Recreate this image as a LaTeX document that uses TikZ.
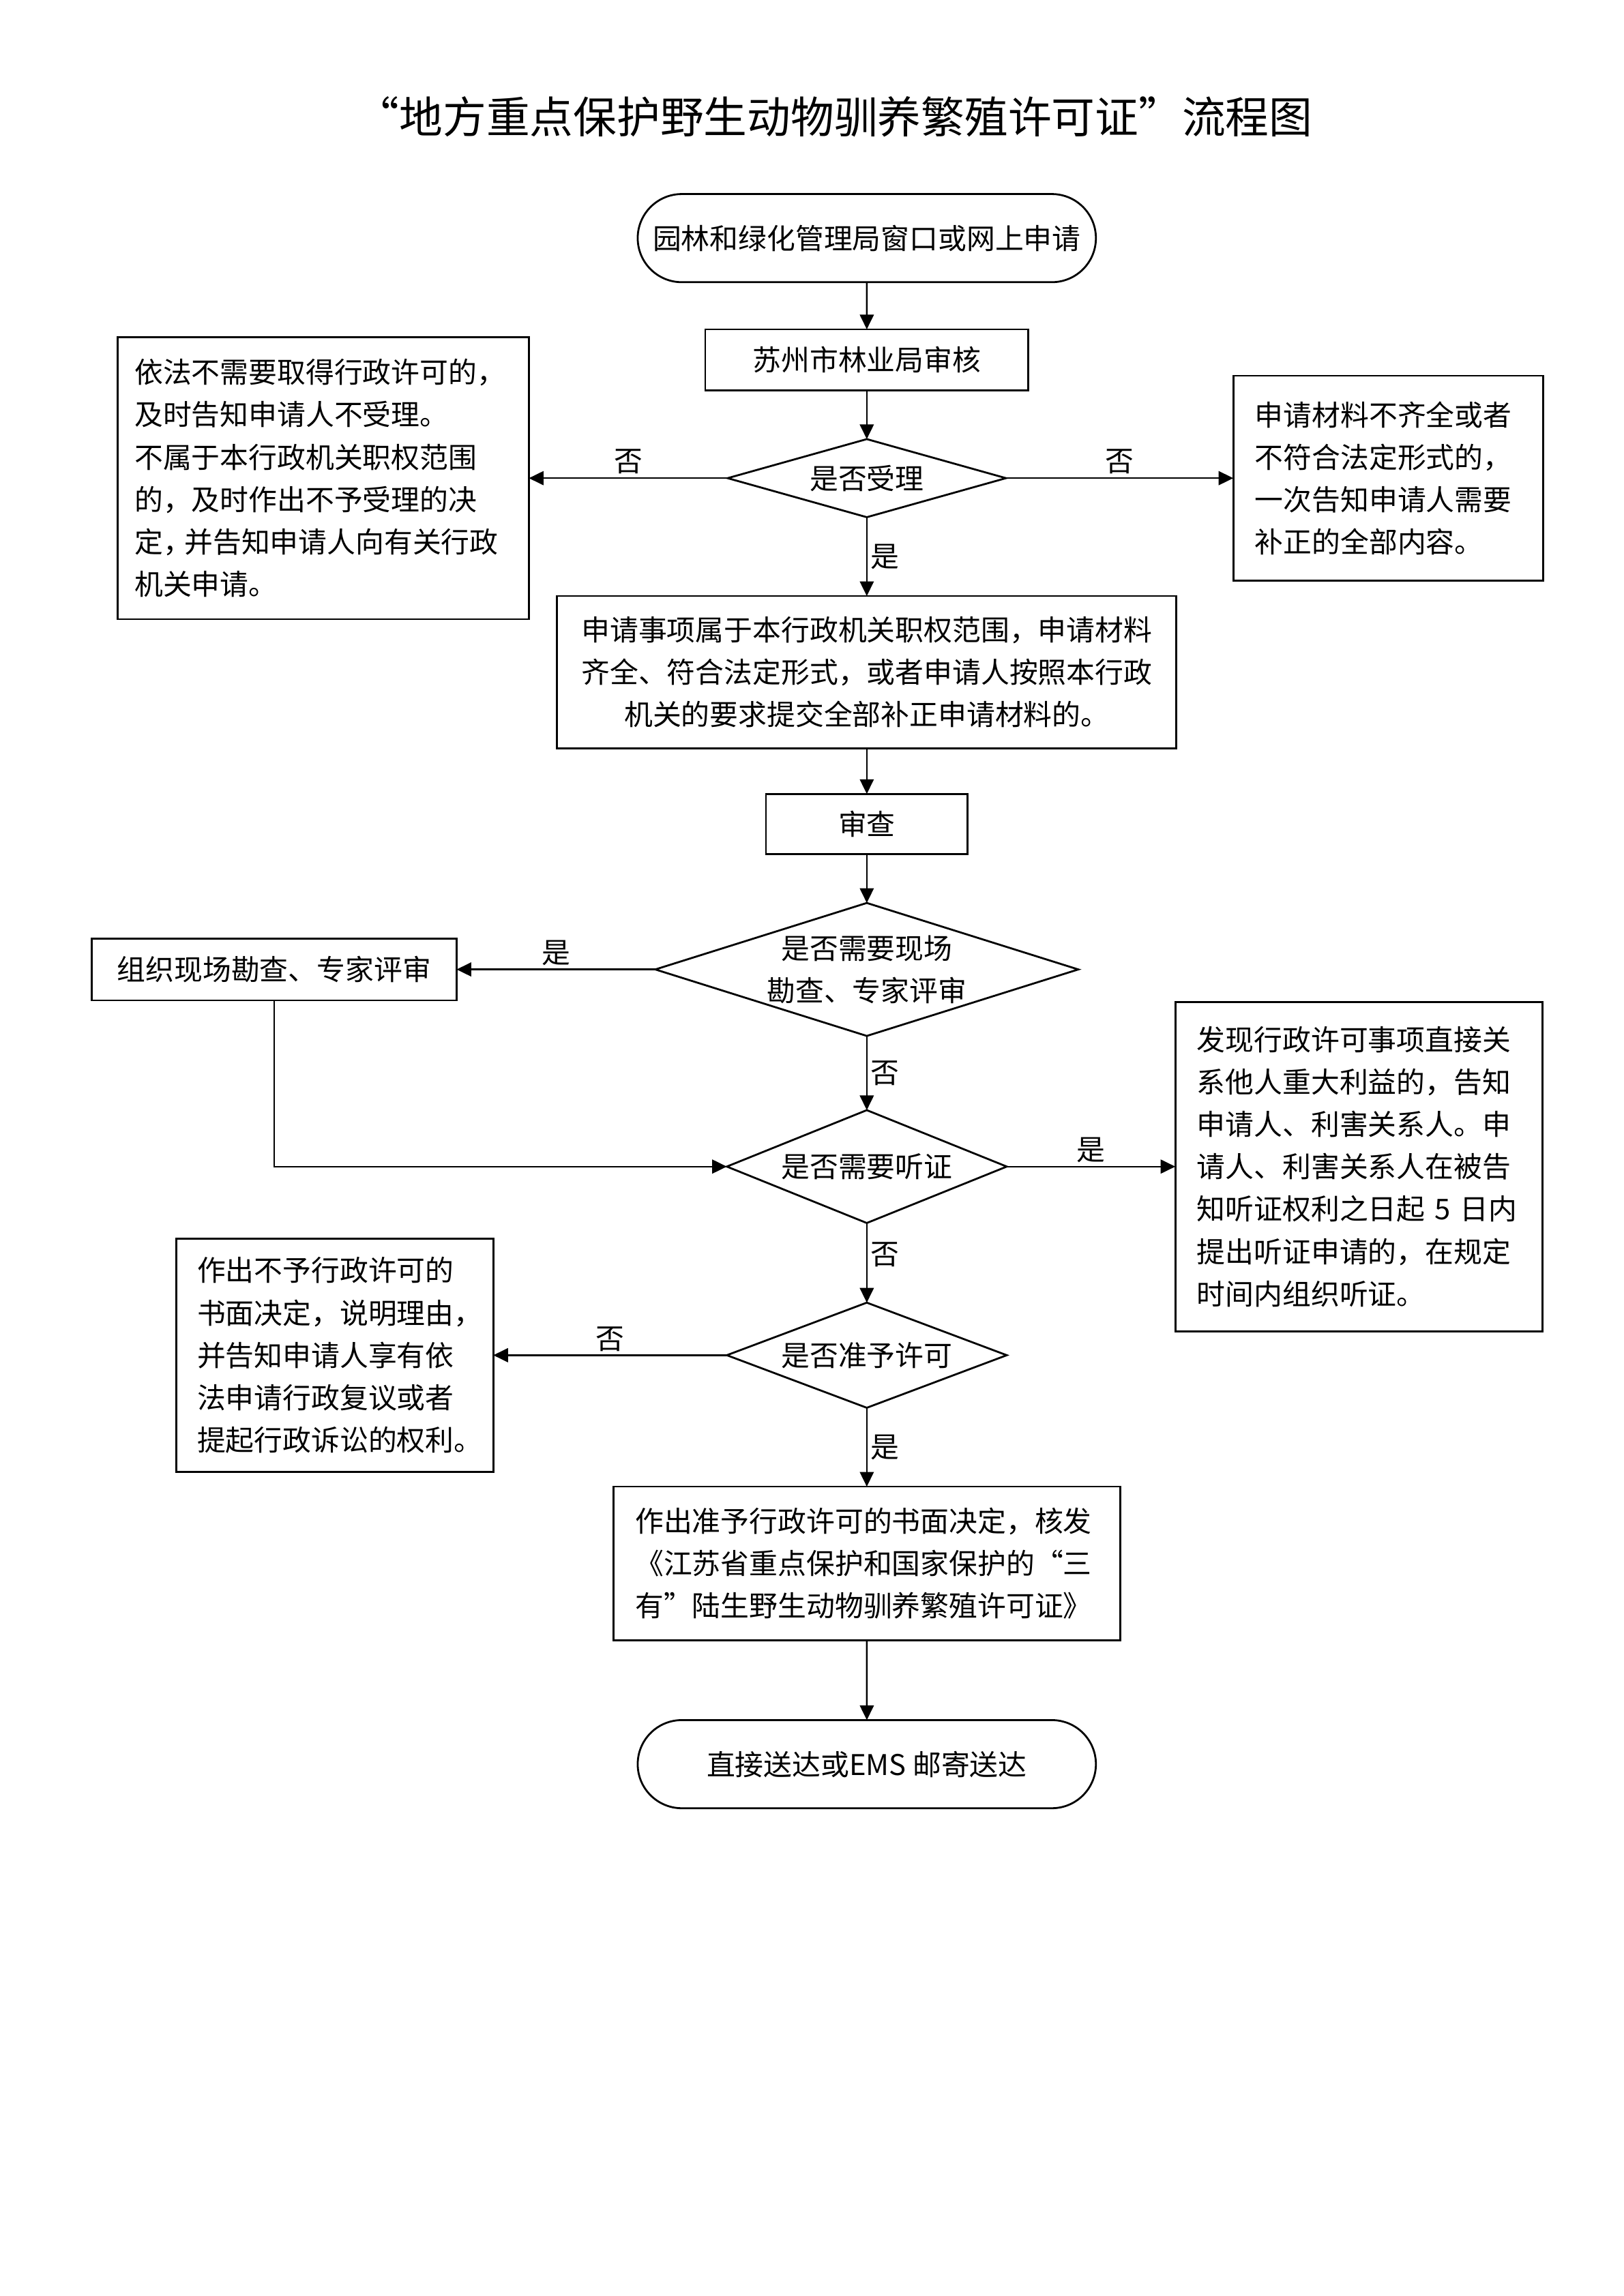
\documentclass[tikz,border=0pt]{standalone}
\usepackage{fontspec}
\setmainfont{Noto Sans CJK SC}
\usepackage{tikz}
\usetikzlibrary{positioning,arrows.meta,shapes.geometric,shapes.misc}
\newcommand{\zhengwen}{\fontsize{10.5pt}{15.6pt}\selectfont}
\tikzset{
  kuang/.style={rectangle, draw, line width=0.7pt, outer sep=0pt, font=\zhengwen, inner ysep=0pt},
  lingxing/.style={diamond, draw, line width=0.7pt, outer sep=0pt, inner sep=0pt},
  tuoyuan/.style={rounded rectangle, draw, line width=0.7pt, outer sep=0pt, font=\zhengwen,
    minimum width=61.6mm, minimum height=11.4mm},
  wenzi/.style={font=\zhengwen, align=center},
  jiantou/.style={-{Triangle[length=1.9mm,width=1.8mm]}, line width=0.6pt},
  biaoqian/.style={font=\zhengwen, inner sep=1.2pt},
}

\begin{document}
\begin{tikzpicture}[x=1mm,y=1mm]
  \useasboundingbox (0,0) rectangle (210,-297);
  \node[font=\fontsize{16pt}{20pt}\selectfont, anchor=west] (biaoti) at (44.8,-15.1)
    {“地方重点保护野生动物驯养繁殖许可证”流程图};
  % main column
  \node[tuoyuan] (shenqing) at (112.1,-30.8) {园林和绿化管理局窗口或网上申请};
  \node[kuang, below=6.1mm of shenqing, minimum width=41.8mm, minimum height=7.9mm] (shenhe) {苏州市林业局审核};
  \node[lingxing, below=6.3mm of shenhe, minimum width=36mm, minimum height=10.1mm,
    label={[wenzi]center:是否受理}] (shouli) {};
  \node[kuang, below=10.2mm of shouli, minimum width=80.1mm, minimum height=19.7mm, align=center] (fanwei)
    {申请事项属于本行政机关职权范围，申请材料\\齐全、符合法定形式，或者申请人按照本行政\\机关的要求提交全部补正申请材料的。};
  \node[kuang, below=5.9mm of fanwei, minimum width=26.1mm, minimum height=7.8mm] (shencha) {审查};
  \node[lingxing, below=6.3mm of shencha, minimum width=54.7mm, minimum height=17.2mm,
    label={[wenzi]center:是否需要现场\\勘查、专家评审}] (xianchang) {};
  \node[lingxing, below=9.6mm of xianchang, minimum width=36.2mm, minimum height=14.6mm,
    label={[wenzi]center:是否需要听证}] (tingzheng) {};
  \node[lingxing, below=10.3mm of tingzheng, minimum width=36.2mm, minimum height=13.6mm,
    label={[wenzi]center:是否准予许可}] (xuke) {};
  \node[kuang, below=10.2mm of xuke, minimum width=65.5mm, minimum height=19.9mm,
    text width=59.9mm, inner xsep=2.8mm, align=left] (zhunyu)
    {作出准予行政许可的书面决定，核发\\《江苏省重点保护和国家保护的“三\\有”陆生野生动物驯养繁殖许可证》};
  \node[tuoyuan, below=10.3mm of zhunyu] (songda) {直接送达或EMS 邮寄送达};
  % side boxes
  \node[kuang, left=25.7mm of shouli, minimum width=53.2mm, minimum height=36.5mm,
    text width=48.8mm, inner xsep=2.2mm, align=left] (bushouli)
    {依法不需要取得行政许可的，\\及时告知申请人不受理。\\不属于本行政机关职权范围\\的，及时作出不予受理的决\\定，\kern-0.25em 并告知申请人向有关行政\\机关申请。};
  \node[kuang, right=29.4mm of shouli, minimum width=40.1mm, minimum height=26.5mm,
    text width=34.5mm, inner xsep=2.8mm, align=left] (buzheng)
    {申请材料不齐全或者\\不符合法定形式的，\\一次告知申请人需要\\补正的全部内容。};
  \node[kuang, left=25.7mm of xianchang, minimum width=47.2mm, minimum height=8mm] (kancha)
    {组织现场勘查、专家评审};
  \node[kuang, right=21.8mm of tingzheng, minimum width=47.5mm, minimum height=42.6mm,
    text width=41.9mm, inner xsep=2.8mm, align=left] (gaozhi)
    {发现行政许可事项直接关\\系他人重大利益的，告知\\申请人、利害关系人。申\\请人、利害关系人在被告\\知听证权利之日起 5 日内\\提出听证申请的，在规定\\时间内组织听证。};
  \node[kuang, left=30.2mm of xuke, minimum width=41mm, minimum height=30.2mm,
    text width=35.6mm, inner xsep=2.7mm, align=left] (buyu)
    {作出不予行政许可的\\书面决定，说明理由，\\并告知申请人享有依\\法申请行政复议或者\\提起行政诉讼的权利。};
  % connectors
  \draw[jiantou] (shenqing) -- (shenhe);
  \draw[jiantou] (shenhe) -- (shouli);
  \draw[jiantou] (shouli.west) -- (bushouli.east) node[midway,above,biaoqian]{否};
  \draw[jiantou] (shouli.east) -- (buzheng.west) node[midway,above,biaoqian]{否};
  \draw[jiantou] (shouli.south) -- (fanwei.north) node[midway,right,biaoqian]{是};
  \draw[jiantou] (fanwei) -- (shencha);
  \draw[jiantou] (shencha) -- (xianchang.north);
  \draw[jiantou] (xianchang.west) -- (kancha.east) node[midway,above,biaoqian]{是};
  \draw[jiantou] (xianchang.south) -- (tingzheng.north) node[midway,right,biaoqian]{否};
  \draw[jiantou] (kancha.south) |- (tingzheng.west);
  \draw[jiantou] (tingzheng.east) -- (gaozhi.west) node[midway,above,biaoqian]{是};
  \draw[jiantou] (tingzheng.south) -- (xuke.north) node[pos=0.4,right,biaoqian]{否};
  \draw[jiantou] (xuke.west) -- (buyu.east) node[midway,above,biaoqian]{否};
  \draw[jiantou] (xuke.south) -- (zhunyu.north) node[midway,right,biaoqian]{是};
  \draw[jiantou] (zhunyu) -- (songda);
\end{tikzpicture}
\end{document}
